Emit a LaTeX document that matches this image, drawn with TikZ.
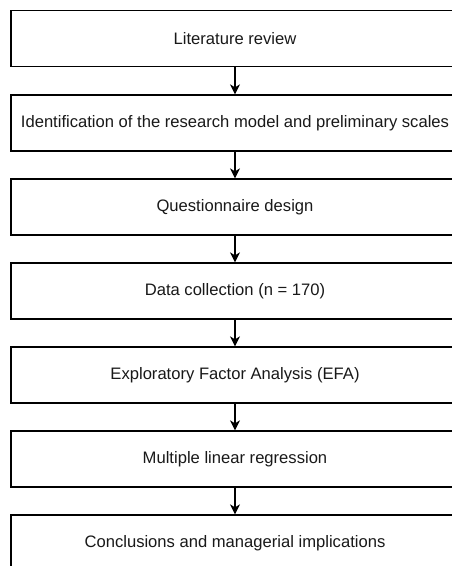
\documentclass[tikz,border=0pt]{standalone}
\usepackage{fontspec}
\setmainfont{Liberation Sans}
\usetikzlibrary{arrows.meta}
\begin{document}
\begin{tikzpicture}[x=1pt,y=-1pt,
  stepbox/.style={draw=black,line width=1.3pt,minimum width=448pt,minimum height=56pt,inner sep=0pt,
    font=\fontsize{16.6pt}{19pt}\selectfont,text=black!90},
  flow/.style={line width=1.3pt,-{Stealth[length=10pt,width=10pt,inset=3pt]}}]
\useasboundingbox (0,0) rectangle (452,566);
\clip (0,0) rectangle (452,566);
\fill[white] (0,0) rectangle (452,566);
\node[stepbox] (b1) at (235,38.5) {Literature review};
\node[stepbox] (b2) at (235,123) {Identification of the research model and preliminary scales};
\node[stepbox] (b3) at (235,207) {Questionnaire design};
\node[stepbox] (b4) at (235,291) {Data collection (n = 170)};
\node[stepbox] (b5) at (235,375) {Exploratory Factor Analysis (EFA)};
\node[stepbox] (b6) at (235,459) {Multiple linear regression};
\node[stepbox] (b7) at (235,543) {Conclusions and managerial implications};
\draw[flow] (b1) -- (b2);
\draw[flow] (b2) -- (b3);
\draw[flow] (b3) -- (b4);
\draw[flow] (b4) -- (b5);
\draw[flow] (b5) -- (b6);
\draw[flow] (b6) -- (b7);
\end{tikzpicture}
\end{document}
